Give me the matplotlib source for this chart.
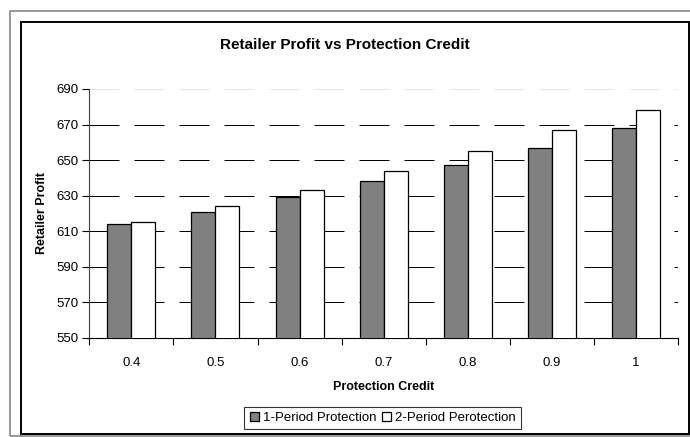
import matplotlib
matplotlib.use("Agg")
from matplotlib import pyplot as plt
from matplotlib.patches import Rectangle
import numpy as np

credits = ["0.4", "0.5", "0.6", "0.7", "0.8", "0.9", "1"]
one_period = [614, 620.6, 629.4, 638, 647.1, 657, 668]
two_period = [615.5, 624.2, 633.4, 644, 655, 666.7, 678.3]
labels = ["1-Period Protection", "2-Period Perotection"]

plt.rcParams["font.family"] = ["Liberation Sans", "DejaVu Sans"]

W, H = 690, 437
fig = plt.figure(figsize=(W / 100, H / 100), dpi=100)

# outer frames (Excel-like)
fig.patches.append(Rectangle((9.5 / W, 1.3 / H), 1.2, 1 - 12.3 / H, transform=fig.transFigure,
                             fill=False, edgecolor="#888888", linewidth=1.2))
fig.patches.append(Rectangle((20.5 / W, 3 / H), 668.2 / W, 412 / H, transform=fig.transFigure,
                             fill=False, edgecolor="black", linewidth=1.4))

ax = fig.add_axes([89.3 / W, 1 - 338 / H, (678 - 89.3) / W, (338 - 89) / H])

x = np.arange(len(credits))
w = 0.2857
ax.bar(x - w / 2, one_period, w, color="#808080", edgecolor="black", linewidth=0.9, label=labels[0], zorder=3)
ax.bar(x + w / 2, two_period, w, color="white", edgecolor="black", linewidth=0.9, label=labels[1], zorder=3)

ax.set_ylim(550, 690)
ax.set_xlim(-0.5, len(credits) - 0.5)
ax.set_yticks(range(550, 691, 20))

for v in range(570, 691, 20):
    col = "#e6e6e6" if v == 690 else "black"
    ax.axhline(v, color=col, linewidth=0.72, linestyle=(0, (30, 15)), zorder=1)

ax.set_xticks(x)
ax.set_xticklabels(credits)
ax.set_xticks(np.arange(-0.5, len(credits)), minor=True)
ax.tick_params(axis="x", which="major", length=0, pad=14, labelsize=9.5)
ax.tick_params(axis="x", which="minor", length=5, width=0.8, direction="out")
ax.tick_params(axis="y", length=5, width=0.8, direction="out", pad=3, labelsize=9.5)

for s in ["top", "right"]:
    ax.spines[s].set_visible(False)
ax.spines["left"].set_color("#404040")
ax.spines["bottom"].set_color("black")

fig.text(345 / W, 1 - 45 / H, "Retailer Profit vs Protection Credit", fontsize=11, fontweight="bold",
         ha="center", va="center")
ax.set_xlabel("Protection Credit", fontsize=9, fontweight="bold", labelpad=8)
ax.set_ylabel("Retailer Profit", fontsize=9, fontweight="bold", labelpad=6)

leg = fig.legend(loc="center", bbox_to_anchor=(382.5 / W, 1 - 418 / H), ncol=2, fontsize=9.5,
                 frameon=True, fancybox=False, edgecolor="black", handlelength=0.7, handleheight=0.7,
                 handletextpad=0.3, columnspacing=0.4, borderpad=0.4, borderaxespad=0)
leg.get_frame().set_linewidth(0.8)

fig.savefig("out.png", dpi=100)
